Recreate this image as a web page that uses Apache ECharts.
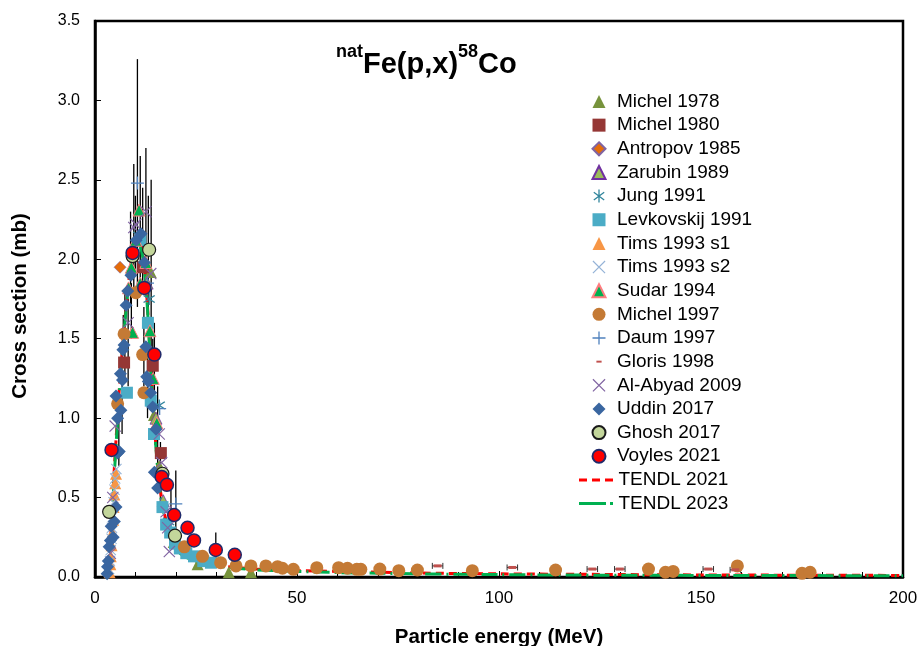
<!DOCTYPE html>
<html>
<head>
<meta charset="utf-8">
<script src="https://cdn.jsdelivr.net/npm/echarts@6/dist/echarts.min.js"></script>
<style>html,body{margin:0;padding:0;background:#fff;}#c{width:921px;height:646px;}</style>
</head>
<body>
<div id="c"></div>
<script>
// ---------- data (E in MeV, cross section in mb) ----------
const xTicks = [0, 50, 100, 150, 200];
const yTicks = [0, 0.5, 1.0, 1.5, 2.0, 2.5, 3.0, 3.5];

const michel1978 = [[13.8,1.92],[14.6,1.02],[15.9,0.70],[19.5,0.22],[25.4,0.08],[33.1,0.03],[38.6,0.03]];
const michel1980 = [[7.2,1.35],[11.9,1.95],[14.3,1.33],[16.3,0.78]];
const antropov1985 = [[6.2,1.95]];
const zarubin1989 = [[12.9,1.85],[15.1,1.00],[16.9,0.48]];
const jung1991 = [[10.8,2.15],[13.4,1.75],[15.9,1.08],[18.2,0.35]];
const levkovskij1991 = [[7.9,1.16],[11.2,2.12],[13.1,1.60],[13.8,1.11],[14.6,0.90],[16.7,0.44],[17.6,0.33],[18.6,0.28],[19.8,0.21],[21.0,0.18],[22.6,0.15],[24.5,0.13],[26.8,0.10],[28.7,0.09]];
const tims1993s1 = [[3.6,0.03],[3.8,0.08],[3.9,0.13],[4.1,0.20],[4.3,0.28],[4.5,0.36],[4.6,0.44],[4.8,0.52],[5.0,0.59],[5.2,0.65]];
const tims1993s2 = [[3.5,0.05],[3.7,0.10],[3.9,0.17],[4.1,0.24],[4.2,0.31],[4.4,0.38],[4.6,0.47],[4.8,0.55],[5.0,0.62],[5.3,0.68]];
const sudar1994 = [[8.3,1.82],[9.0,1.95],[9.3,1.54],[10.1,2.12],[10.9,2.31],[11.2,1.85],[12.6,1.98],[13.6,1.55],[14.4,1.25],[15.3,0.97]];
const michel1997 = [[5.6,1.09],[7.2,1.53],[10.1,1.79],[11.8,1.40],[12.1,1.16],[22.1,0.19],[26.6,0.13],[31.1,0.09],[34.9,0.07],[38.6,0.07],[42.3,0.07],[45.2,0.065],[46.4,0.055],[49.1,0.048],[54.9,0.059],[60.3,0.059],[62.5,0.055],[64.8,0.048],[65.8,0.048],[70.5,0.05],[75.2,0.04],[79.8,0.044],[93.4,0.04],[114.0,0.044],[137.0,0.05],[141.2,0.03],[143.1,0.035],[159.0,0.07],[175.0,0.023],[177.0,0.03]];
const daum1997 = [[10.5,2.48],[13.0,1.85],[16.0,1.06],[20.0,0.46]];
const gloris1998 = [[84.8,0.07],[103.3,0.06],[123.1,0.05],[129.9,0.05],[151.8,0.05],[158.5,0.045]];
const alAbyad2009 = [[3.8,0.15],[4.4,0.50],[5.0,0.95],[8.2,1.60],[9.6,2.20],[10.1,2.22],[12.6,2.30],[13.8,1.91],[15.9,0.90],[16.5,0.72],[17.6,0.41],[18.0,0.31],[18.4,0.16]];
const uddin2017 = [[3.0,0.02],[3.1,0.065],[3.3,0.10],[3.5,0.19],[3.8,0.23],[4.0,0.32],[4.5,0.25],[4.8,0.35],[5.2,0.44],[5.6,0.78],[6.0,0.79],[5.6,1.00],[6.4,1.05],[5.2,1.14],[6.3,1.28],[6.8,1.24],[6.9,1.43],[7.2,1.46],[7.7,1.71],[8.1,1.80],[8.9,1.90],[10.2,2.12],[11.4,2.16],[12.2,1.98],[12.6,1.45],[12.8,1.26],[13.2,1.23],[13.8,1.16],[14.3,1.07],[15.1,0.93],[14.7,0.66],[15.5,0.56]];
const ghosh2017 = [[3.5,0.41],[9.3,2.02],[13.4,2.06],[16.7,0.65],[19.8,0.26]];
const voyles2021 = [[4.1,0.80],[9.3,2.04],[12.2,1.82],[14.7,1.40],[16.5,0.63],[17.8,0.58],[19.6,0.39],[22.9,0.31],[24.5,0.23],[29.9,0.17],[34.6,0.14]];
const tendl2021 = [[2.5,0],[3,0.01],[3.5,0.08],[4,0.30],[4.5,0.55],[5,0.78],[5.5,0.98],[6,1.18],[7,1.50],[8,1.78],[9,1.98],[10,2.08],[11,2.10],[12,2.00],[13,1.70],[14,1.22],[15,0.85],[16,0.58],[17,0.42],[18,0.32],[19,0.25],[20,0.20],[22,0.15],[25,0.11],[30,0.075],[35,0.06],[40,0.05],[50,0.04],[60,0.035],[70,0.03],[80,0.025],[100,0.02],[120,0.017],[150,0.013],[200,0.01]];
const tendl2023 = [[2.5,0],[3,0.005],[3.5,0.06],[4,0.25],[4.5,0.50],[5,0.74],[5.5,0.95],[6,1.15],[7,1.48],[8,1.76],[9,1.96],[10,2.06],[11,2.08],[12,1.98],[13,1.68],[14,1.20],[15,0.84],[16,0.56],[17,0.40],[18,0.30],[19,0.23],[20,0.18],[22,0.13],[25,0.10],[30,0.07],[35,0.055],[40,0.045],[50,0.035],[60,0.028],[70,0.024],[80,0.02],[100,0.015],[120,0.012],[150,0.01],[200,0.008]];
// vertical error bars [E, low, high]
const errV = [[10.5,1.70,3.26],[9.6,1.80,2.60],[12.6,1.90,2.70],[11.2,1.80,2.65],[13.9,1.30,2.50],[13.2,1.60,2.40],[8.8,1.70,2.30],[10.0,1.90,2.40],[11.8,1.80,2.45],[12.1,1.20,1.70],[8.2,1.20,1.75],[7.4,1.25,1.80],[6.7,0.90,1.30],[14.7,1.00,1.60],[15.5,0.60,1.20],[16.2,0.45,0.85],[20.0,0.25,0.67],[29.9,0.10,0.28],[18.8,0.30,0.55],[5.9,0.70,1.10],[14.3,1.10,1.50],[13.0,1.00,1.45],[7.0,1.40,1.65],[9.0,1.50,1.85]];
// horizontal error bars [E, y, halfWidth]
const errH = [[84.8,0.07,1.3],[103.3,0.06,1.3],[123.1,0.05,1.3],[129.9,0.05,1.3],[151.8,0.05,1.3],[158.5,0.045,1.3]];

// ---------- symbols ----------
function seg(x1,y1,x2,y2,w){
  const dx=x2-x1, dy=y2-y1, L=Math.sqrt(dx*dx+dy*dy);
  const nx=-dy/L*w/2, ny=dx/L*w/2;
  return 'M'+(x1+nx)+','+(y1+ny)+' L'+(x2+nx)+','+(y2+ny)+' L'+(x2-nx)+','+(y2-ny)+' L'+(x1-nx)+','+(y1-ny)+' Z ';
}
const symX = 'path://' + seg(-10,-10,10,10,2) + seg(-10,10,10,-10,2);
const symPlus = 'path://' + seg(0,-10,0,10,2) + seg(-10,0,10,0,2);
const symStar = 'path://' + seg(0,-10,0,10,2) + seg(-8,-6,8,6,2) + seg(-8,6,8,-6,2);
const iconDash = 'path://M0,0 h8 v3 h-8 Z M13,0 h8 v3 h-8 Z M26,0 h8 v3 h-8 Z';
const iconDashDot = 'path://M0,0 h27 v3 h-27 Z M31,0 h3 v3 h-3 Z';
const iconSmallDash = 'path://M0,0 L0,0 M20,20 L20,20 M6,8.5 h8 v3 h-8 Z';

const FONT = 'Liberation Sans, Arial, sans-serif';
const NARROW = '"Liberation Sans Narrow", "Arial Narrow", "Liberation Sans", Arial, sans-serif';

function sc(name, data, symbol, size, color, border, bw){
  return {name, type:'scatter', data, symbol, symbolSize:size, z:5,
    itemStyle:{color, borderColor:border||color, borderWidth:bw===undefined?0:bw, opacity:1}};
}

const series = [
  {name:'errV', type:'custom', z:3, silent:true, data:errV,
    encode:{x:0,y:[1,2]},
    renderItem:(params, api)=>{
      const a=api.coord([api.value(0),api.value(1)]), b=api.coord([api.value(0),api.value(2)]);
      return {type:'line', shape:{x1:a[0],y1:a[1],x2:b[0],y2:b[1]}, style:{stroke:'#000',lineWidth:1.3}};
    }},
  {name:'errH', type:'custom', z:3, silent:true, data:errH,
    encode:{x:0,y:1},
    renderItem:(params, api)=>{
      const a=api.coord([api.value(0)-api.value(2),api.value(1)]), b=api.coord([api.value(0)+api.value(2),api.value(1)]);
      return {type:'group', children:[
        {type:'line', shape:{x1:a[0],y1:a[1],x2:b[0],y2:b[1]}, style:{stroke:'#333',lineWidth:1}},
        {type:'line', shape:{x1:a[0],y1:a[1]-3,x2:a[0],y2:a[1]+3}, style:{stroke:'#333',lineWidth:1}},
        {type:'line', shape:{x1:b[0],y1:b[1]-3,x2:b[0],y2:b[1]+3}, style:{stroke:'#333',lineWidth:1}}
      ]};
    }},
  {name:'TENDL 2021', type:'line', data:tendl2021, symbol:'none', z:4, smooth:0.3,
    lineStyle:{color:'#FF0000', width:3, type:[8,5]}, itemStyle:{color:'#FF0000'}},
  {name:'TENDL 2023', type:'line', data:tendl2023, symbol:'none', z:4, smooth:0.3,
    lineStyle:{color:'#00B050', width:3, type:[16,5,2,5]}, itemStyle:{color:'#00B050'}},
  sc('Michel 1978', michel1978, 'triangle', 12, '#77933C'),
  sc('Michel 1980', michel1980, 'rect', 12, '#953735'),
  sc('Antropov 1985', antropov1985, 'diamond', 12, '#E46C0A', '#8064A2', 0.6),
  sc('Zarubin 1989', zarubin1989, 'triangle', 12, '#9BBB59', '#7030A0', 0.8),
  sc('Jung 1991', jung1991, symStar, 12, '#31859C'),
  sc('Levkovskij 1991', levkovskij1991, 'rect', 12, '#4BACC6'),
  sc('Tims 1993 s1', tims1993s1, 'triangle', 12, '#F79646'),
  sc('Tims 1993 s2', tims1993s2, symX, 11, '#95B3D7'),
  sc('Sudar 1994', sudar1994, 'triangle', 12, '#00B050', '#FF7C80', 1),
  sc('Michel 1997', michel1997, 'circle', 13, '#C47A35'),
  sc('Daum 1997', daum1997, symPlus, 13, '#4F81BD'),
  sc('Gloris 1998', gloris1998, 'rect', [8,3], '#C0504D'),
  sc('Al-Abyad 2009', alAbyad2009, symX, 12, '#8064A2'),
  sc('Uddin 2017', uddin2017, 'diamond', 13, '#3A66A0'),
  sc('Ghosh 2017', ghosh2017, 'circle', 13, '#C3D69B', '#1a1a1a', 1.2),
  sc('Voyles 2021', voyles2021, 'circle', 13, '#FF0000', '#1F2A6B', 1.5)
];

const markerNames = ['Michel 1978','Michel 1980','Antropov 1985','Zarubin 1989','Jung 1991','Levkovskij 1991','Tims 1993 s1','Tims 1993 s2','Sudar 1994','Michel 1997','Daum 1997',{name:'Gloris 1998', icon:iconSmallDash},'Al-Abyad 2009','Uddin 2017','Ghosh 2017','Voyles 2021'];
const legendTop = 87, legendStep = 23.65;

const chart = echarts.init(document.getElementById('c'), null, {renderer:'canvas'});
chart.setOption({
  animation:false,
  backgroundColor:'#fff',
  title:{
    text:'{s|nat}{m|Fe(p,x)}{s|58}{m|Co}',
    left:331, top:38,
    textStyle:{rich:{
      m:{fontSize:29, fontWeight:'bold', fontFamily:FONT, color:'#000', lineHeight:36, verticalAlign:'bottom'},
      s:{fontSize:18, fontWeight:'bold', fontFamily:FONT, color:'#000', verticalAlign:'top', lineHeight:36}
    }}
  },
  legend:[{
    data:markerNames, orient:'vertical', left:586.5, top:legendTop,
    itemWidth:13, itemHeight:13, itemGap:legendStep-19,
    textStyle:{fontSize:19, fontFamily:FONT, color:'#000', padding:[0,0,0,6.5]},
    selectedMode:false
  },{
    data:[{name:'TENDL 2021', icon:iconDash},{name:'TENDL 2023', icon:iconDashDot}],
    orient:'vertical', left:574, top:legendTop+16*legendStep,
    itemWidth:35, itemHeight:3, itemGap:legendStep-19,
    textStyle:{fontSize:19, fontFamily:FONT, color:'#000'},
    selectedMode:false
  }],
  grid:{left:95, right:18, top:21, bottom:69, show:true, borderColor:'#000', borderWidth:2.5, backgroundColor:'transparent', outerBoundsMode:'none', containLabel:false},
  graphic:[{
    type:'text', x:20, y:306, rotation:Math.PI/2,
    style:{text:'Cross section (mb)', fontSize:20.5, fontWeight:'bold', fontFamily:FONT, fill:'#000', align:'center', verticalAlign:'middle'}
  }],
  xAxis:{
    type:'value', min:xTicks[0], max:xTicks[xTicks.length-1], interval:50,
    name:'Particle energy (MeV)', nameLocation:'middle', nameGap:50,
    nameTextStyle:{fontSize:20.5, fontWeight:'bold', fontFamily:FONT, color:'#000'},
    axisLine:{show:true, lineStyle:{color:'#000', width:2.5}},
    axisTick:{show:true, inside:true, length:6, lineStyle:{color:'#000', width:1}},
    minorTick:{show:true, splitNumber:5, length:5, lineStyle:{color:'#000', width:1}},
    splitLine:{show:false},
    axisLabel:{fontSize:17, fontFamily:FONT, color:'#000', margin:13}
  },
  yAxis:{
    type:'value', min:yTicks[0], max:yTicks[yTicks.length-1], interval:0.5,
    axisLine:{show:true, lineStyle:{color:'#000', width:2.5}},
    axisTick:{show:true, inside:true, length:6, lineStyle:{color:'#000', width:1}},
    splitLine:{show:false},
    axisLabel:{fontSize:16, fontFamily:NARROW, color:'#000', margin:15, formatter:v=>v.toFixed(1)}
  },
  series
});
</script>
</body>
</html>
